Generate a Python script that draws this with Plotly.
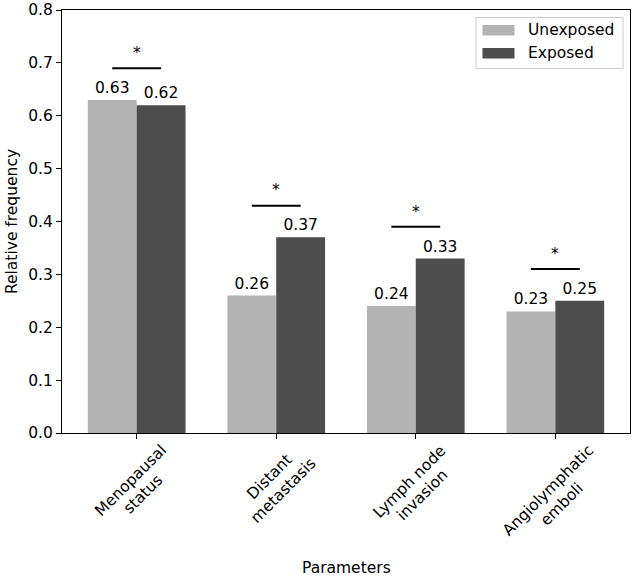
import plotly.graph_objects as go

categories = [["Menopausal", "status"], ["Distant", "metastasis"], ["Lymph node", "invasion"], ["Angiolymphatic", "emboli"]]
series_names = ["Unexposed", "Exposed"]
unexposed = [0.63, 0.26, 0.24, 0.23]
exposed = [0.62, 0.37, 0.33, 0.25]
significance = ["*", "*", "*", "*"]
yticks = [0.0, 0.1, 0.2, 0.3, 0.4, 0.5, 0.6, 0.7, 0.8]
colors = ["#b3b3b3", "#4d4d4d"]

pos = list(range(len(categories)))
FONT = "DejaVu Sans"
FS = 15.5
W, H = 632, 576
ML, MR, MT, MB = 62, 2, 10, 143
PW, PH = W - ML - MR, H - MT - MB

# approximate DejaVu Sans advance widths (em) for label layout
CW = {"M": .863, "e": .615, "n": .634, "o": .612, "p": .635, "a": .613, "u": .634, "s": .521,
      "l": .278, "t": .392, "D": .770, "i": .278, "m": .974, "L": .557, "y": .592, "h": .634,
      " ": .318, "d": .635, "v": .592, "A": .684, "g": .635, "c": .550, "b": .635}


def text_w(s):
    return sum(CW.get(ch, 0.6) for ch in s) * FS


def px(x):
    return (x - ML) / PW


def py(y):
    return 1 - (y - MT) / PH


fig = go.Figure()
for name, vals, col in zip(series_names, [unexposed, exposed], colors):
    fig.add_trace(go.Bar(x=pos, y=vals, name=name, marker=dict(color=col, line=dict(width=0)),
                         texttemplate="%{y:.2f}", textposition="outside", cliponaxis=False,
                         textfont=dict(size=FS, color="black", family=FONT), showlegend=False))

for i, (u, e, s) in enumerate(zip(unexposed, exposed, significance)):
    top = max(u, e) + 0.06
    fig.add_shape(type="line", x0=pos[i] - 0.175, x1=pos[i] + 0.175, y0=top, y1=top,
                  xref="x", yref="y", line=dict(color="black", width=2))
    fig.add_annotation(x=pos[i], y=top + 0.008, text=s, showarrow=False, xref="x", yref="y",
                       yanchor="bottom", font=dict(size=FS, color="black", family=FONT))

# rotated category labels, lines centered on each other, bbox centered at tick (like matplotlib)
LH = 1.2 * FS
D = 0.7071
for i, lines in enumerate(categories):
    w = max(text_w(l) for l in lines)
    h = LH * len(lines) + 0.2 * FS
    cy = 7 + D * (w + h) / 2  # px below the x axis line
    n = len(lines)
    for k, line in enumerate(lines):
        off = (k - (n - 1) / 2) * LH * D
        fig.add_annotation(x=pos[i], y=0, xref="x", yref="y", text=line, showarrow=False,
                           textangle=-45, xanchor="center", yanchor="middle",
                           xshift=off, yshift=-(cy + off),
                           font=dict(size=FS, color="black", family=FONT))

# legend box with wide patches
x0, x1, y0, y1 = px(476), px(623), py(17.5), py(68.5)
fig.add_shape(type="rect", xref="paper", yref="paper", x0=x0, x1=x1, y0=y1, y1=y0,
              line=dict(color="#cccccc", width=1), fillcolor="rgba(255,255,255,0.8)", layer="above")
for k, (name, col) in enumerate(zip(series_names, colors)):
    ty, by = 25 + 23 * k, 35.5 + 23 * k
    fig.add_shape(type="rect", xref="paper", yref="paper", x0=px(482.5), x1=px(514.5),
                  y0=py(by), y1=py(ty), line=dict(width=0), fillcolor=col, layer="above")
    fig.add_annotation(xref="paper", yref="paper", x=px(526), y=py((ty + by) / 2), text=name,
                       showarrow=False, xanchor="left", yanchor="middle",
                       font=dict(size=FS, color="black", family=FONT))

fig.update_layout(
    width=W, height=H,
    margin=dict(l=ML, r=MR, t=MT, b=MB),
    paper_bgcolor="white", plot_bgcolor="white",
    barmode="group", bargap=0.3, bargroupgap=0,
    font=dict(family=FONT, size=FS, color="black"),
    showlegend=False,
    xaxis=dict(range=[-0.535, 3.535], tickvals=pos, showticklabels=False, automargin=False,
               showline=True, linecolor="black", linewidth=1, mirror=True,
               ticks="outside", ticklen=5, tickcolor="black", showgrid=False, zeroline=False),
    yaxis=dict(range=[0, 0.8], tickvals=yticks, ticktext=[f"{v:.1f}" for v in yticks],
               automargin=False,
               showline=True, linecolor="black", linewidth=1, mirror=True,
               ticks="outside", ticklen=5, tickcolor="black", showgrid=False, zeroline=False,
               tickfont=dict(size=FS),
               title=dict(text="Relative frequency", standoff=6, font=dict(size=FS))),
)
fig.add_annotation(xref="paper", yref="paper", x=0.5, y=py(568), text="Parameters", showarrow=False,
                   xanchor="center", yanchor="middle", font=dict(size=FS, color="black", family=FONT))

fig.write_html("out.html")
